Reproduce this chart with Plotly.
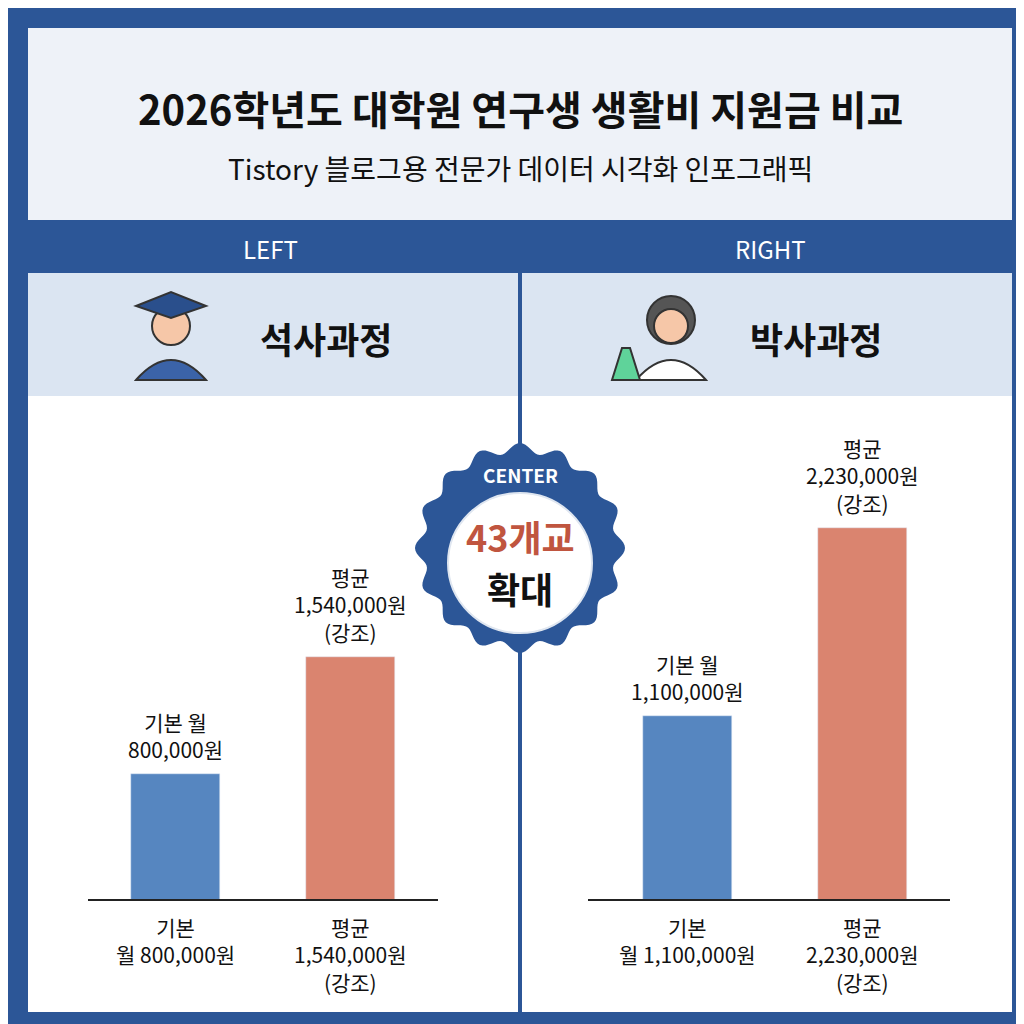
import math
import plotly.graph_objects as go

categories_left = ["기본 월", "평균"]
values_left = [800000, 1540000]
categories_right = ["기본 월", "평균"]
values_right = [1100000, 2230000]
bar_labels_left = ["기본 월<br>800,000원", "평균<br>1,540,000원<br>(강조)"]
bar_labels_right = ["기본 월<br>1,100,000원", "평균<br>2,230,000원<br>(강조)"]
tick_labels_left = ["기본<br>월 800,000원", "평균<br>1,540,000원<br>(강조)"]
tick_labels_right = ["기본<br>월 1,100,000원", "평균<br>2,230,000원<br>(강조)"]
colors = ["#5686c0", "#da846f"]

BLUE = "#2c5697"
FONT = "Noto Sans CJK KR"
W = H = 1024

def px(x): return x / W
def py(y): return 1 - y / H

fig = go.Figure()
fig.add_trace(go.Bar(x=[0, 1], y=values_left, marker_color=colors, width=0.51,
                     xaxis="x", yaxis="y", showlegend=False, hoverinfo="skip"))
fig.add_trace(go.Bar(x=[0, 1], y=values_right, marker_color=colors, width=0.51,
                     xaxis="x2", yaxis="y2", showlegend=False, hoverinfo="skip"))

shapes = []
def rect(x0, y0, x1, y1, color, layer="below"):
    shapes.append(dict(type="rect", xref="paper", yref="paper", x0=px(x0), x1=px(x1),
                       y0=py(y1), y1=py(y0), fillcolor=color, line=dict(width=0), layer=layer))

rect(0, 0, 1024, 1024, BLUE)
rect(20, 20, 1004, 212, "#eef2f8")
rect(20, 265, 510, 388, "#dbe5f2")
rect(514, 265, 1004, 388, "#dbe5f2")
rect(20, 388, 510, 1004, "white")
rect(514, 388, 1004, 1004, "white")
for x0, x1 in [(80, 430), (580, 942)]:
    shapes.append(dict(type="line", xref="paper", yref="paper", x0=px(x0), x1=px(x1),
                       y0=py(892), y1=py(892), line=dict(color="#222", width=2), layer="above"))

# badge
cx, cy = 512, 540
pts = []
for i in range(241):
    t = 2 * math.pi * i / 240
    r = 100 + 5 * math.cos(16 * t)
    pts.append((cx + r * math.cos(t), cy + r * math.sin(t)))
path = "M " + " L ".join(f"{px(x):.5f},{py(y):.5f}" for x, y in pts) + " Z"
shapes.append(dict(type="path", xref="paper", yref="paper", path=path,
                   fillcolor=BLUE, line=dict(width=0), layer="above"))
shapes.append(dict(type="circle", xref="paper", yref="paper", x0=px(512 - 72), x1=px(512 + 72),
                   y0=py(555 + 70), y1=py(555 - 70), fillcolor="white",
                   line=dict(color="#dfe6f0", width=2), layer="above"))

def circ(x, y, r, color, lc="#333"):
    shapes.append(dict(type="circle", xref="paper", yref="paper", x0=px(x - r), x1=px(x + r),
                       y0=py(y + r), y1=py(y - r), fillcolor=color,
                       line=dict(color=lc, width=2), layer="above"))
shapes.append(dict(type="path", xref="paper", yref="paper", layer="above",
                   path=f"M {px(128)},{py(372)} Q {px(163)},{py(332)} {px(198)},{py(372)} Z",
                   fillcolor="#3b63a8", line=dict(color="#333", width=2)))
circ(163, 318, 19, "#f6c7a8")
shapes.append(dict(type="path", xref="paper", yref="paper", layer="above",
                   path=f"M {px(128)},{py(298)} L {px(163)},{py(284)} L {px(198)},{py(298)} L {px(163)},{py(310)} Z",
                   fillcolor="#2a4f8c", line=dict(color="#333", width=2)))
shapes.append(dict(type="path", xref="paper", yref="paper", layer="above",
                   path=f"M {px(628)},{py(372)} Q {px(663)},{py(332)} {px(698)},{py(372)} Z",
                   fillcolor="white", line=dict(color="#333", width=2)))
circ(663, 312, 24, "#555")
circ(663, 318, 17, "#f6c7a8")
shapes.append(dict(type="path", xref="paper", yref="paper", layer="above",
                   path=f"M {px(614)},{py(340)} L {px(622)},{py(340)} L {px(632)},{py(372)} L {px(604)},{py(372)} Z",
                   fillcolor="#5fd39a", line=dict(color="#333", width=2)))

ann = []
def text(x, y, s, size, color="#111", bold=True):
    ann.append(dict(xref="paper", yref="paper", x=px(x), y=py(y), text=f"<b>{s}</b>" if bold else s,
                    showarrow=False, font=dict(family=FONT, size=size, color=color),
                    xanchor="center", yanchor="middle"))

text(512, 100, "2026학년도 대학원 연구생 생활비 지원금 비교", 40)
text(512, 160, "Tistory 블로그용 전문가 데이터 시각화 인포그래픽", 28, bold=False)
text(262, 240, "LEFT", 24, "white", bold=False)
text(762, 240, "RIGHT", 24, "white", bold=False)
text(318, 330, "석사과정", 36)
text(808, 330, "박사과정", 36)
text(512, 466, "CENTER", 19, "white")
text(512, 528, "43개교", 36, "#c0553f")
text(512, 580, "확대", 36)

for xa, ya, labels, vals in [("x", "y", bar_labels_left, values_left),
                             ("x2", "y2", bar_labels_right, values_right)]:
    for i, (lab, v) in enumerate(zip(labels, vals)):
        ann.append(dict(xref=xa, yref=ya, x=i, y=v, text=lab, showarrow=False, yshift=8,
                        yanchor="bottom", font=dict(family=FONT, size=21, color="#111")))
for xa, labels in [("x", tick_labels_left), ("x2", tick_labels_right)]:
    for i, lab in enumerate(labels):
        ann.append(dict(xref=xa, yref="paper", x=i, y=py(902), text=lab, showarrow=False,
                        yanchor="top", font=dict(family=FONT, size=21, color="#111")))

shapes.append(dict(type="line", xref="paper", yref="paper", x0=0.5, x1=0.5, y0=py(1004), y1=py(212),
                   line=dict(color=BLUE, width=3), layer="below"))

ax = dict(visible=False, range=[-0.5, 1.5], fixedrange=True)
fig.update_layout(
    width=W, height=H, margin=dict(l=0, r=0, t=0, b=0),
    paper_bgcolor=BLUE, plot_bgcolor="rgba(0,0,0,0)",
    xaxis=dict(ax, domain=[px(80), px(430)]),
    xaxis2=dict(ax, domain=[px(592), px(942)]),
    yaxis=dict(visible=False, range=[0, 3.2e6], domain=[py(892), py(388)]),
    yaxis2=dict(visible=False, range=[0, 3.02e6], domain=[py(892), py(388)]),
    shapes=shapes, annotations=ann, bargap=0,
)
fig.write_html("out.html")
